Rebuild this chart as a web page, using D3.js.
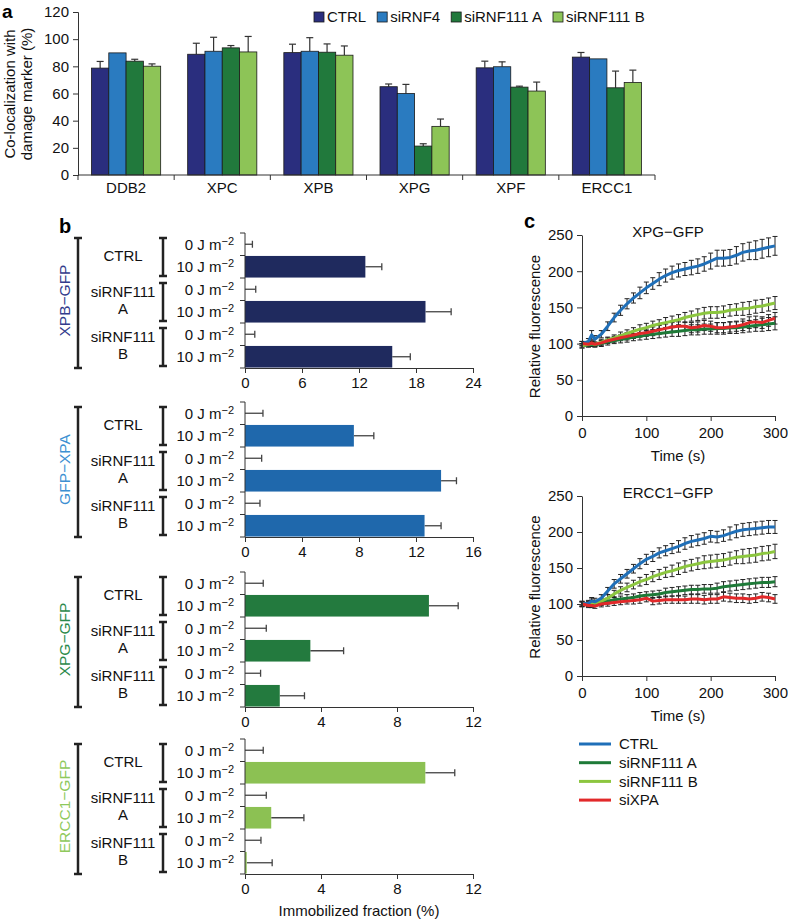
<!DOCTYPE html>
<html>
<head>
<meta charset="utf-8">
<script src="https://cdn.jsdelivr.net/npm/d3@7"></script>
<style>
body { margin: 0; background: #fff; }
svg { font-family: "Liberation Sans", Arial, sans-serif; }
</style>
</head>
<body>
<script>
// ---------- panel a data ----------
var genes = ["DDB2", "XPC", "XPB", "XPG", "XPF", "ERCC1"];
var conditions = ["CTRL", "siRNF4", "siRNF111 A", "siRNF111 B"];
var colocMean = [
  [78.7, 89.9, 83.8, 80.1],
  [88.9, 91.1, 93.6, 90.6],
  [90.1, 91.1, 90.4, 88.2],
  [65.0, 60.0, 21.3, 35.8],
  [78.9, 79.7, 64.7, 61.8],
  [86.8, 85.5, 64.2, 68.1]
];
var colocErr = [
  [4.9, 0, 1.4, 1.7],
  [8.1, 10.3, 1.7, 11.4],
  [6.2, 10.0, 6.1, 6.8],
  [2.0, 6.7, 1.7, 5.4],
  [4.9, 3.6, 0.7, 6.6],
  [3.4, 0, 12.3, 9.1]
];
var colocTicks = [0, 20, 40, 60, 80, 100, 120];

// ---------- panel b data ----------
var proteins = ["XPB\u2212GFP", "GFP\u2212XPA", "XPG\u2212GFP", "ERCC1\u2212GFP"];
var groups = [["CTRL"], ["siRNF111", "A"], ["siRNF111", "B"]];
var doses = ["0 J m", "10 J m", "0 J m", "10 J m", "0 J m", "10 J m"];
var xpbFraction = [0, 12.67, 0, 19.0, 0, 15.5];
var xpbErr = [0.78, 1.73, 1.13, 2.7, 1.03, 1.9];
var xpaFraction = [0, 7.64, 0, 13.76, 0, 12.6];
var xpaErr = [1.26, 1.4, 1.17, 1.08, 1.05, 1.16];
var xpgFraction = [0, 9.68, 0, 3.44, 0, 1.83];
var xpgErr = [0.96, 1.54, 1.12, 1.75, 0.82, 1.3];
var erccFraction = [0, 9.49, 0, 1.38, 0, 0.09];
var erccErr = [0.96, 1.55, 1.12, 1.72, 0.84, 1.34];
var bTicks = [[0, 6, 12, 18, 24], [0, 4, 8, 12, 16], [0, 4, 8, 12], [0, 4, 8, 12]];

// ---------- panel c data ----------
var times = [0, 10, 15, 20, 30, 40, 50, 60, 70, 80, 90, 100, 110, 120, 130, 140, 150,
             160, 170, 180, 190, 200, 210, 220, 230, 240, 250, 260, 270, 280, 290, 300];
var seriesNames = ["CTRL", "siRNF111 A", "siRNF111 B", "siXPA"];

var xpgCtrl = [100, 103, 112, 106, 113, 124, 136, 146, 155, 163, 170, 177, 183, 189, 194, 198, 201,
               203, 205, 207, 210, 214, 218, 218, 219, 222, 226, 228, 229, 231, 233, 235];
var xpgCtrlErr = [3, 4, 6, 5, 5, 6, 6, 7, 7, 7, 8, 8, 8, 9, 9, 9, 9, 9, 10, 10, 10, 11, 11, 11, 11, 12, 12, 12, 13, 13, 13, 13];
var xpgA = [97, 98, 99, 98, 100, 102, 104, 106, 107, 109, 110, 112, 113, 114, 115, 116, 117,
            118, 119, 119, 120, 120, 121, 121, 122, 122, 123, 124, 125, 126, 127, 128];
var xpgAErr = [3, 3, 3, 3, 4, 4, 4, 5, 5, 5, 5, 6, 6, 6, 6, 6, 7, 7, 7, 7, 7, 7, 8, 8, 8, 8, 8, 8, 8, 9, 9, 9];
var xpgB = [97, 99, 100, 99, 102, 105, 108, 111, 114, 117, 120, 122, 125, 127, 129, 131, 133,
            136, 138, 140, 142, 143, 143, 144, 146, 147, 148, 149, 151, 152, 154, 156];
var xpgBErr = [3, 3, 3, 3, 4, 4, 4, 5, 5, 5, 6, 6, 6, 6, 7, 7, 7, 7, 7, 8, 8, 8, 8, 8, 8, 8, 9, 9, 9, 9, 9, 9];
var xpgXpa = [100, 99, 101, 99, 101, 104, 106, 108, 110, 112, 114, 115, 117, 119, 121, 123, 124,
              124, 122, 123, 125, 124, 122, 122, 123, 124, 126, 129, 130, 129, 132, 135];
var xpgXpaErr = [3, 3, 3, 3, 3, 4, 4, 4, 5, 5, 5, 5, 6, 6, 6, 6, 6, 6, 7, 7, 7, 7, 7, 7, 7, 7, 8, 8, 8, 8, 8, 8];

var erccCtrl = [100, 101, 104, 103, 108, 118, 128, 135, 142, 149, 156, 162, 166, 171, 174, 177, 180,
                184, 187, 189, 191, 194, 193, 195, 198, 201, 203, 204, 205, 206, 207, 207];
var erccCtrlErr = [4, 4, 5, 5, 5, 5, 6, 6, 6, 6, 7, 7, 7, 7, 7, 7, 8, 8, 8, 8, 8, 8, 8, 8, 9, 9, 9, 9, 9, 9, 9, 9];
var erccA = [100, 100, 101, 100, 102, 104, 106, 107, 108, 109, 111, 112, 113, 114, 116, 117, 118,
             119, 120, 120, 121, 121, 122, 124, 125, 126, 127, 128, 129, 130, 130, 131];
var erccAErr = [3, 3, 3, 3, 4, 4, 4, 4, 5, 5, 5, 5, 5, 5, 6, 6, 6, 6, 6, 6, 6, 6, 7, 7, 7, 7, 7, 7, 7, 7, 7, 7];
var erccB = [100, 100, 103, 101, 104, 108, 114, 119, 123, 127, 131, 134, 138, 141, 144, 146, 149,
             152, 154, 156, 158, 159, 160, 161, 163, 165, 166, 167, 168, 170, 171, 173];
var erccBErr = [3, 3, 4, 4, 4, 5, 5, 5, 6, 6, 6, 7, 7, 7, 7, 8, 8, 8, 8, 8, 9, 9, 9, 9, 9, 9, 10, 10, 10, 10, 10, 10];
var erccXpa = [100, 98, 98, 97, 100, 101, 102, 103, 104, 105, 106, 108, 104, 105, 106, 106, 106,
               106, 107, 107, 106, 107, 107, 110, 109, 108, 108, 107, 108, 110, 109, 107];
var erccXpaErr = [3, 3, 3, 3, 4, 4, 4, 4, 4, 5, 5, 5, 5, 5, 5, 5, 5, 5, 6, 6, 6, 6, 6, 6, 6, 6, 6, 6, 6, 6, 6, 6];
var fluoTicks = [0, 50, 100, 150, 200, 250];
var timeTicks = [0, 100, 200, 300];

// colours
var aColors = ["#2a2e7e", "#2a7bc0", "#21793c", "#8dc457"];
var bColors = ["#1f2a5e", "#1f68ac", "#237a3e", "#8cc153"];
var bLabelColors = ["#323c8c", "#3d90d2", "#2c8a4b", "#8fc95c"];
var lineColors = ["#1f6fb8", "#1e7a38", "#8cc63f", "#e2292a"];

var fs = 15;
var svg = d3.select("body").append("svg").attr("width", 788).attr("height", 920);

// ================= panel a =================
svg.append("text").attr("x", 2).attr("y", 18).attr("font-size", 19).attr("font-weight", "bold").text("a");

var aLeft = 78, aRight = 655;
var yA = d3.scaleLinear().domain([0, 120]).range([175, 12]);
var xA = d3.scaleBand().domain(genes).range([aLeft, aRight]).padding(0);
var xSub = d3.scaleBand().domain(conditions).range([13.5, xA.bandwidth() - 13.5]).padding(0);

var ga = svg.append("g");
genes.forEach(function(g, gi) {
  conditions.forEach(function(c, ci) {
    var x0 = xA(g) + xSub(c);
    var v = colocMean[gi][ci], e = colocErr[gi][ci];
    var cx = x0 + xSub.bandwidth() / 2;
    if (e > 0) {
      ga.append("line").attr("x1", cx).attr("x2", cx).attr("y1", yA(v)).attr("y2", yA(v + e))
        .attr("stroke", "#333").attr("stroke-width", 1.2);
      ga.append("line").attr("x1", cx - 3.5).attr("x2", cx + 3.5).attr("y1", yA(v + e)).attr("y2", yA(v + e))
        .attr("stroke", "#333").attr("stroke-width", 1.2);
    }
    ga.append("rect").attr("x", x0).attr("y", yA(v)).attr("width", xSub.bandwidth()).attr("height", yA(0) - yA(v))
      .attr("fill", aColors[ci]).attr("stroke", "#1a1a1a").attr("stroke-width", 0.8);
  });
});

var axA = svg.append("g").attr("transform", "translate(" + aLeft + ",0)")
  .call(d3.axisLeft(yA).tickValues(colocTicks).tickSize(5).tickPadding(4));
axA.selectAll("text").attr("font-size", fs).attr("fill", "#111");
axA.selectAll("line,path").attr("stroke", "#333");

// x axis of panel a
svg.append("line").attr("x1", aLeft).attr("x2", aRight).attr("y1", yA(0)).attr("y2", yA(0)).attr("stroke", "#333");
var bounds = genes.map(function(g) { return xA(g); }).concat([aRight]);
svg.selectAll(".atick").data(bounds).enter().append("line")
  .attr("x1", function(d) { return d; }).attr("x2", function(d) { return d; })
  .attr("y1", yA(0)).attr("y2", yA(0) + 5).attr("stroke", "#333");
svg.selectAll(".alab").data(genes).enter().append("text")
  .attr("x", function(d) { return xA(d) + xA.bandwidth() / 2; }).attr("y", 188).attr("dy", "0.35em")
  .attr("text-anchor", "middle").attr("font-size", fs).attr("fill", "#111").text(function(d) { return d; });

svg.append("text").attr("transform", "translate(15,94) rotate(-90)").attr("text-anchor", "middle")
  .attr("font-size", fs).attr("fill", "#111").text("Co-localization with");
svg.append("text").attr("transform", "translate(32,94) rotate(-90)").attr("text-anchor", "middle")
  .attr("font-size", fs).attr("fill", "#111").text("damage marker (%)");

// legend a
var lx = 314;
conditions.forEach(function(c, i) {
  svg.append("rect").attr("x", lx).attr("y", 12).attr("width", 10).attr("height", 10)
    .attr("fill", aColors[i]).attr("stroke", "#1a1a1a").attr("stroke-width", 0.8);
  var t = svg.append("text").attr("x", lx + 13).attr("y", 17).attr("dy", "0.35em")
    .attr("font-size", fs).attr("fill", "#111").text(c);
  lx += 13 + t.node().getComputedTextLength() + 11;
});

// ================= panel b =================
svg.append("text").attr("x", 59).attr("y", 233).attr("font-size", 20).attr("font-weight", "bold").text("b");

var bFractions = [xpbFraction, xpaFraction, xpgFraction, erccFraction];
var bErrs = [xpbErr, xpaErr, xpgErr, erccErr];
var bTops = [233, 402, 572, 739];
var bHeight = 135;
var bLeft = 245, bRight = 473;

function bracket(g, x, y1, y2) {
  g.append("line").attr("x1", x).attr("x2", x).attr("y1", y1).attr("y2", y2).attr("stroke", "#222").attr("stroke-width", 2.5);
  g.append("line").attr("x1", x - 4).attr("x2", x + 4).attr("y1", y1).attr("y2", y1).attr("stroke", "#222").attr("stroke-width", 2.5);
  g.append("line").attr("x1", x - 4).attr("x2", x + 4).attr("y1", y2).attr("y2", y2).attr("stroke", "#222").attr("stroke-width", 2.5);
}

proteins.forEach(function(p, pi) {
  var top = bTops[pi], bottom = top + bHeight;
  var yB = d3.scaleBand().domain(d3.range(6)).range([top, bottom]).paddingInner(0.04).paddingOuter(0.02);
  var xB = d3.scaleLinear().domain([0, bTicks[pi][bTicks[pi].length - 1]]).range([bLeft, bRight]);
  var g = svg.append("g");
  var vals = bFractions[pi], errs = bErrs[pi];
  var rowH = bHeight / 6;

  vals.forEach(function(v, i) {
    var cy = yB(i) + yB.bandwidth() / 2;
    var xe = xB(v + errs[i]);
    g.append("line").attr("x1", xB(v)).attr("x2", xe).attr("y1", cy).attr("y2", cy).attr("stroke", "#444").attr("stroke-width", 1.3);
    g.append("line").attr("x1", xe).attr("x2", xe).attr("y1", cy - 3.5).attr("y2", cy + 3.5).attr("stroke", "#444").attr("stroke-width", 1.3);
    if (v > 0) {
      g.append("rect").attr("x", xB(0)).attr("y", yB(i)).attr("width", xB(v) - xB(0)).attr("height", yB.bandwidth())
        .attr("fill", bColors[pi]);
    }
    var t = g.append("text").attr("x", 234).attr("y", cy).attr("dy", "0.35em").attr("text-anchor", "end")
      .attr("font-size", fs).attr("fill", "#111").text(doses[i]);
    t.append("tspan").attr("dy", "-0.45em").attr("font-size", 11).text("\u22122");
  });

  // y axis with ticks at row boundaries
  g.append("line").attr("x1", bLeft).attr("x2", bLeft).attr("y1", top).attr("y2", bottom).attr("stroke", "#333");
  d3.range(7).forEach(function(k) {
    g.append("line").attr("x1", bLeft - 5).attr("x2", bLeft).attr("y1", top + k * rowH).attr("y2", top + k * rowH).attr("stroke", "#333");
  });
  var ax = g.append("g").attr("transform", "translate(0," + bottom + ")")
    .call(d3.axisBottom(xB).tickValues(bTicks[pi]).tickSize(5).tickPadding(4).tickSizeOuter(0));
  ax.selectAll("text").attr("font-size", fs).attr("fill", "#111");
  ax.selectAll("line,path").attr("stroke", "#333");

  // brackets and group labels
  groups.forEach(function(lbl, gi) {
    var y1 = top + gi * 2 * rowH, y2 = y1 + 2 * rowH;
    bracket(g, 163, y1 + 5, y2 - 2);
    var cy = (y1 + y2) / 2;
    lbl.forEach(function(line, li) {
      g.append("text").attr("x", 123).attr("y", cy + (li - (lbl.length - 1) / 2) * 17).attr("dy", "0.35em")
        .attr("text-anchor", "middle").attr("font-size", fs).attr("fill", "#111").text(line);
    });
  });
  bracket(g, 78, top + 5, bottom);
  g.append("text").attr("transform", "translate(65," + (top + bHeight / 2) + ") rotate(-90)").attr("dy", "0.35em")
    .attr("text-anchor", "middle").attr("font-size", fs + 0.5).attr("fill", bLabelColors[pi]).text(p);
});

svg.append("text").attr("x", (bLeft + bRight) / 2).attr("y", 911).attr("dy", "0.35em").attr("text-anchor", "middle")
  .attr("font-size", fs).attr("fill", "#111").text("Immobilized fraction (%)");

// ================= panel c =================
svg.append("text").attr("x", 524).attr("y", 228).attr("font-size", 20).attr("font-weight", "bold").text("c");

var cPlots = [
  { title: "XPG\u2212GFP", top: 235, bottom: 416, series: [xpgCtrl, xpgA, xpgB, xpgXpa], errs: [xpgCtrlErr, xpgAErr, xpgBErr, xpgXpaErr] },
  { title: "ERCC1\u2212GFP", top: 496, bottom: 676, series: [erccCtrl, erccA, erccB, erccXpa], errs: [erccCtrlErr, erccAErr, erccBErr, erccXpaErr] }
];
var drawOrder = [1, 2, 0, 3];

cPlots.forEach(function(pl) {
  var xC = d3.scaleLinear().domain([0, 300]).range([582, 775]);
  var yC = d3.scaleLinear().domain([0, 250]).range([pl.bottom, pl.top]);
  var g = svg.append("g");

  drawOrder.forEach(function(si) {
    var vals = pl.series[si], errs = pl.errs[si];
    times.forEach(function(t, i) {
      var x = xC(t);
      g.append("line").attr("x1", x).attr("x2", x).attr("y1", yC(vals[i] - errs[i])).attr("y2", yC(vals[i] + errs[i]))
        .attr("stroke", "#222").attr("stroke-width", 1);
      [vals[i] - errs[i], vals[i] + errs[i]].forEach(function(e) {
        g.append("line").attr("x1", x - 2.5).attr("x2", x + 2.5).attr("y1", yC(e)).attr("y2", yC(e))
          .attr("stroke", "#222").attr("stroke-width", 1);
      });
    });
  });
  var line = d3.line().x(function(d, i) { return xC(times[i]); }).y(function(d) { return yC(d); });
  drawOrder.forEach(function(si) {
    g.append("path").datum(pl.series[si]).attr("d", line).attr("fill", "none")
      .attr("stroke", lineColors[si]).attr("stroke-width", 3).attr("stroke-linejoin", "round");
  });

  var ay = g.append("g").attr("transform", "translate(582,0)")
    .call(d3.axisLeft(yC).tickValues(fluoTicks).tickSize(5).tickPadding(4).tickSizeOuter(0));
  var ax = g.append("g").attr("transform", "translate(0," + pl.bottom + ")")
    .call(d3.axisBottom(xC).tickValues(timeTicks).tickSize(5).tickPadding(6).tickSizeOuter(0));
  [ay, ax].forEach(function(a) {
    a.selectAll("text").attr("font-size", fs).attr("fill", "#111");
    a.selectAll("line,path").attr("stroke", "#333");
  });

  g.append("text").attr("x", 668).attr("y", pl.top - 3).attr("dy", "0.35em").attr("text-anchor", "middle")
    .attr("font-size", fs).attr("fill", "#111").text(pl.title);
  g.append("text").attr("x", 678).attr("y", pl.bottom + 40).attr("dy", "0.35em").attr("text-anchor", "middle")
    .attr("font-size", fs).attr("fill", "#111").text("Time (s)");
  g.append("text").attr("transform", "translate(540," + ((pl.top + pl.bottom) / 2 + 1) + ") rotate(-90)")
    .attr("text-anchor", "middle").attr("font-size", fs).attr("fill", "#111").text("Relative fluorescence");
});

// legend c
seriesNames.forEach(function(n, i) {
  var y = 744 + i * 18.7;
  svg.append("line").attr("x1", 579).attr("x2", 611).attr("y1", y).attr("y2", y)
    .attr("stroke", lineColors[i]).attr("stroke-width", 3);
  svg.append("text").attr("x", 619).attr("y", y).attr("dy", "0.35em").attr("font-size", fs).attr("fill", "#111").text(n);
});
</script>
</body>
</html>
